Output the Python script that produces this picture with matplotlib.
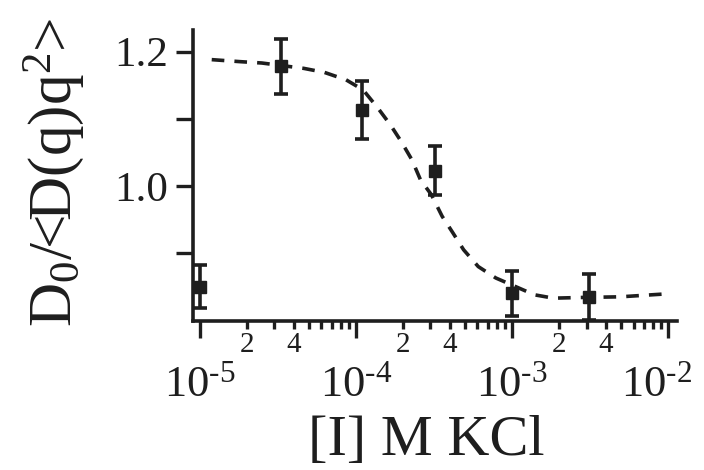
import numpy as np
import matplotlib
matplotlib.use('Agg')
import matplotlib.pyplot as plt
import matplotlib.transforms as mtransforms
from matplotlib.ticker import FixedLocator, FuncFormatter, NullFormatter

plt.rcParams['font.family'] = ['Liberation Serif', 'DejaVu Serif']
plt.rcParams['mathtext.fontset'] = 'custom'
plt.rcParams['mathtext.rm'] = 'Liberation Serif'
plt.rcParams['mathtext.it'] = 'Liberation Serif:italic'

# ionic strength [M KCl] and measured ratio with error bars
conc = [1.0e-5, 3.3e-5, 1.1e-4, 3.2e-4, 1.0e-3, 3.1e-3]
ratio = [0.850, 1.178, 1.113, 1.023, 0.840, 0.835]
err = [0.032, 0.041, 0.043, 0.037, 0.034, 0.034]

# fitted curve (dashed)
fit_conc = [1.19e-5, 1.81e-5, 2.49e-5, 4.63e-5, 6.28e-5, 8.63e-5, 1.11e-4,
            1.38e-4, 1.66e-4, 1.95e-4, 2.28e-4, 2.59e-4, 3.04e-4, 3.56e-4,
            4.18e-4, 4.89e-4, 6.07e-4, 7.87e-4, 1.39e-3, 1.84e-3, 2.74e-3,
            4.93e-3, 9.16e-3]
fit_ratio = [1.188, 1.185, 1.183, 1.175, 1.169, 1.158, 1.143,
             1.116, 1.091, 1.066, 1.039, 1.009, 0.987, 0.955,
             0.930, 0.905, 0.880, 0.863, 0.838, 0.833, 0.834,
             0.835, 0.839]

ink = '#1e1e1e'

fig = plt.figure(figsize=(7.04, 4.70), dpi=100)
ax = fig.add_axes([0.274, 0.317, 0.688, 0.619])

ax.plot(fit_conc, fit_ratio, color=ink, lw=2.6, dashes=(3.5, 2.8))
ax.errorbar(conc, ratio, yerr=err, fmt='s', color=ink, ms=8,
            elinewidth=2.6, capsize=5, capthick=2.6)

ax.set_xscale('log')
ax.set_xlim(10**-5.045, 10**-1.942)
ax.set_ylim(0.799, 1.232)

for s in ['top', 'right']:
    ax.spines[s].set_visible(False)
for s in ['left', 'bottom']:
    ax.spines[s].set_linewidth(2.6)
    ax.spines[s].set_color(ink)

# x axis: decades labelled, minor ticks with only 2 and 4 labelled
ax.xaxis.set_major_locator(FixedLocator([1e-5, 1e-4, 1e-3, 1e-2]))
ax.xaxis.set_major_formatter(FuncFormatter(
    lambda v, p: r'$10^{\text{-}%d}$' % -round(np.log10(v))))
minors = [m * 10.0**e for e in (-5, -4, -3) for m in range(2, 10)]
ax.xaxis.set_minor_locator(FixedLocator(minors))


def minor_lab(v, p):
    m = round(v / 10**np.floor(np.log10(v) + 1e-9))
    return str(m) if m in (2, 4) else ''


ax.xaxis.set_minor_formatter(FuncFormatter(minor_lab))
ax.tick_params(axis='x', which='major', direction='out', length=12, width=2.4,
               labelsize=32, pad=20, color=ink, labelcolor=ink)
ax.tick_params(axis='x', which='minor', direction='out', length=6, width=2.4,
               labelsize=21, pad=2, color=ink, labelcolor=ink)

# y axis: ticks every 0.1, labels at 1.0 and 1.2
ax.yaxis.set_major_locator(FixedLocator([1.0, 1.2]))
ax.yaxis.set_major_formatter(FuncFormatter(lambda v, p: '%.1f' % v))
ax.yaxis.set_minor_locator(FixedLocator([0.9, 1.1]))
ax.yaxis.set_minor_formatter(NullFormatter())
ax.tick_params(axis='y', which='both', direction='out', length=12, width=2.4,
               labelsize=31, pad=6, color=ink, labelcolor=ink)

# pull the last decade label a bit inwards so it stays on the canvas
last = ax.xaxis.get_major_ticks()[3].label1
last.set_transform(last.get_transform() +
                   mtransforms.ScaledTranslation(-0.12, 0, fig.dpi_scale_trans))

fig.text(0.605, 0.062, '[I] M KCl', fontsize=42, color=ink,
         ha='center', va='center')
fig.text(0.077, 0.634, r'D$_0$/<D(q)q$^2$>', fontsize=44, color=ink,
         ha='center', va='center', rotation=90)

fig.savefig('out.png', dpi=100)
